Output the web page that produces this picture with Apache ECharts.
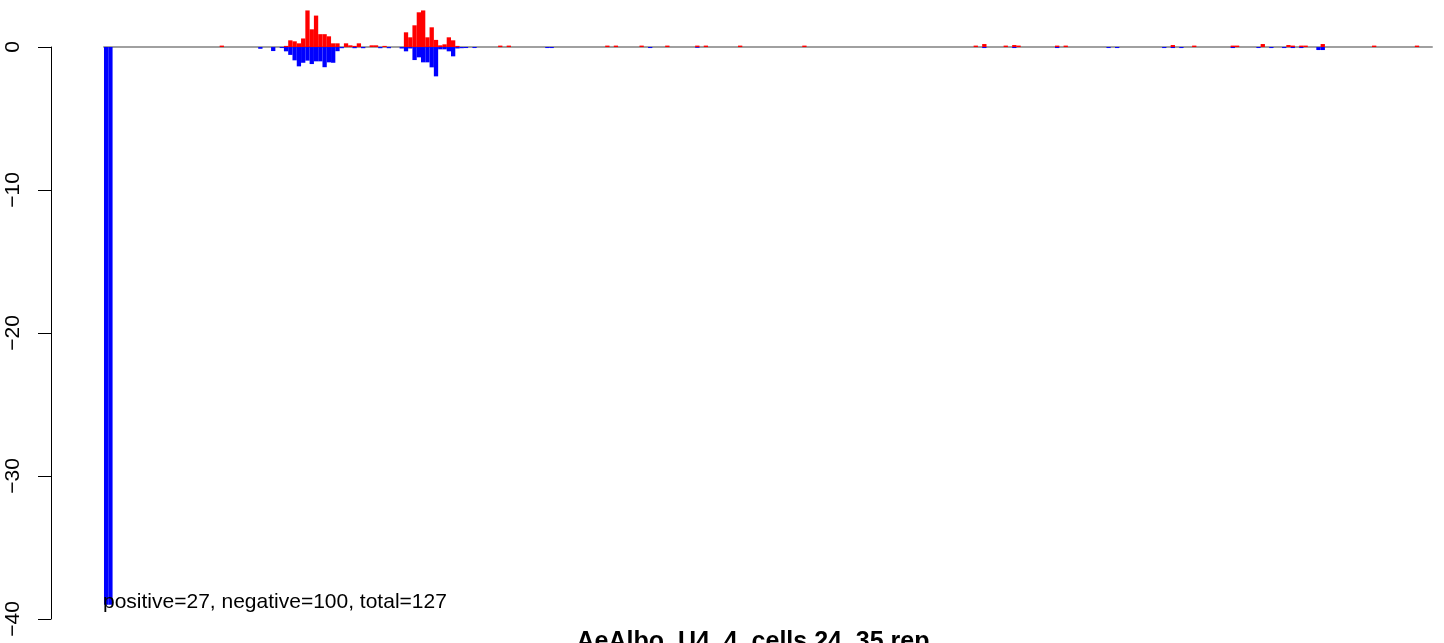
<!DOCTYPE html>
<html>
<head>
<meta charset="utf-8">
<script src="https://cdn.jsdelivr.net/npm/echarts@6/dist/echarts.min.js"></script>
<style>html,body{margin:0;padding:0;background:#fff;}#c{width:1444px;height:643px;}</style>
</head>
<body>
<div id="c"></div>
<script>
// Bin positions (index along the sequence) and values
const posBins = [27,42,43,44,45,46,47,48,49,50,51,52,53,54,56,57,58,59,62,63,65,
  70,71,72,73,74,75,76,77,78,79,80,81,82,92,94,117,119,125,131,138,140,148,163,
  203,205,210,212,213,222,224,249,254,263,264,270,276,277,279,280,284,296,306];
const posVals = [0.1,0.08,0.47,0.40,0.26,0.60,2.56,1.24,2.20,0.90,0.90,0.75,0.26,0.26,0.26,0.12,0.08,0.26,0.12,0.12,0.08,
  1.03,0.68,1.52,2.43,2.56,0.68,1.38,0.50,0.12,0.19,0.68,0.47,0.08,0.1,0.1,0.1,0.1,0.1,0.1,0.1,0.1,0.1,0.1,
  0.1,0.21,0.1,0.14,0.1,0.1,0.1,0.14,0.1,0.1,0.1,0.21,0.14,0.1,0.1,0.1,0.21,0.1,0.1];
const negBins = [0,1,36,39,41,42,43,44,45,46,47,48,49,50,51,52,53,54,55,58,60,64,66,
  69,70,71,72,73,74,75,76,77,78,79,80,81,82,83,84,86,103,104,127,138,
  205,212,222,234,236,247,249,251,263,269,272,275,277,279,283,284];
const negVals = [-39,-39,-0.12,-0.28,-0.07,-0.30,-0.55,-0.93,-1.35,-1.10,-0.95,-1.19,-1.0,-1.0,-1.41,-1.07,-1.10,-0.29,-0.08,-0.08,-0.08,-0.08,-0.08,
  -0.10,-0.30,-0.10,-0.91,-0.72,-1.07,-1.07,-1.42,-2.05,-0.16,-0.16,-0.30,-0.65,-0.10,-0.08,-0.07,-0.07,-0.07,-0.07,-0.07,-0.05,
  -0.07,-0.07,-0.07,-0.07,-0.07,-0.07,-0.07,-0.07,-0.07,-0.07,-0.07,-0.07,-0.07,-0.07,-0.21,-0.21];
const yTicks = [-40,-30,-20,-10,0];
const titleText = 'AeAlbo_U4_4_cells 24_35 rep';
const noteText = 'positive=27, negative=100, total=127';

const FONT = '"Liberation Sans", Arial, Helvetica, sans-serif';
const chart = echarts.init(document.getElementById('c'), null, {renderer: 'canvas'});
const option = {
  animation: false,
  backgroundColor: '#ffffff',
  title: [
    {text: titleText, left: 753, top: 630, textAlign: 'center', padding: 0,
     textStyle: {fontFamily: FONT, fontSize: 25, fontWeight: 'bold', color: '#000'}},
    {text: noteText, left: 103, top: 592, padding: 0,
     textStyle: {fontFamily: FONT, fontSize: 21, fontWeight: 'normal', color: '#000'}}
  ],
  grid: [
    {left: 104, right: 12, top: 0, bottom: 24},
    {left: 51, width: 10, top: 47, bottom: 24}
  ],
  xAxis: [
    {type: 'value', gridIndex: 0, min: 0, max: 310,
     axisLine: {show: true, onZero: true, lineStyle: {color: '#a0a0a0', width: 2}},
     axisTick: {show: false}, axisLabel: {show: false}, splitLine: {show: false}},
    {type: 'value', gridIndex: 1, show: false, min: 0, max: 1}
  ],
  yAxis: [
    {type: 'value', gridIndex: 0, min: -40, max: 3.29, show: false, splitLine: {show: false}},
    {type: 'value', gridIndex: 1, min: yTicks[0], max: yTicks[yTicks.length-1], interval: 10,
     position: 'left',
     axisLine: {show: true, lineStyle: {color: '#000', width: 1}},
     axisTick: {show: true, length: 13, lineStyle: {color: '#000', width: 1}},
     axisLabel: {show: true, rotate: 90, margin: 27, fontSize: 21, fontFamily: FONT, color: '#000',
       formatter: v => String(v).replace('-', '\u2212')},
     splitLine: {show: false}}
  ],
  series: [
    {type: 'bar', xAxisIndex: 0, yAxisIndex: 0, barWidth: 4.3, barGap: '-100%',
     itemStyle: {color: '#ff0000'},
     data: posBins.map((k, i) => [k + 0.5, posVals[i]])},
    {type: 'bar', xAxisIndex: 0, yAxisIndex: 0, barWidth: 4.3, barGap: '-100%',
     itemStyle: {color: '#0000ff'},
     data: negBins.map((k, i) => [k + 0.5, negVals[i]])}
  ]
};
chart.setOption(option);
</script>
</body>
</html>
